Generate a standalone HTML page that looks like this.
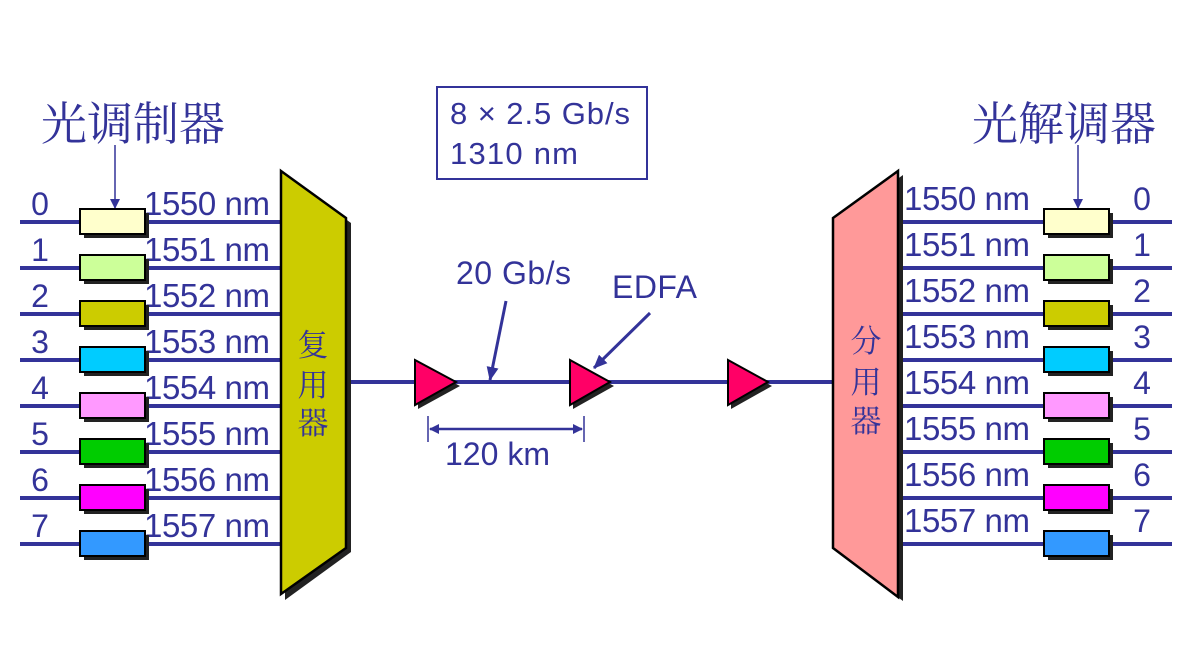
<!DOCTYPE html>
<html><head><meta charset="utf-8"><style>
html,body{margin:0;padding:0;background:#fff;}
svg{display:block;}
text{font-family:"Liberation Sans","Noto Sans CJK SC",sans-serif;fill:#333399;}
.cjk{font-family:"Noto Serif CJK SC","Noto Sans CJK SC",serif;}
</style></head><body>
<svg width="1193" height="658" viewBox="0 0 1193 658" xmlns="http://www.w3.org/2000/svg">
<defs>
<marker id="ah" markerWidth="10" markerHeight="10" refX="9" refY="5" orient="auto" markerUnits="userSpaceOnUse">
<path d="M0,0 L10,5 L0,10 z" fill="#333399"/></marker>
<marker id="ah2" markerWidth="14" markerHeight="12" refX="13" refY="6" orient="auto" markerUnits="userSpaceOnUse">
<path d="M0,0 L14,6 L0,12 z" fill="#333399"/></marker>
<marker id="as" markerWidth="10" markerHeight="10" refX="1" refY="5" orient="auto" markerUnits="userSpaceOnUse">
<path d="M10,0 L0,5 L10,10 z" fill="#333399"/></marker>
</defs>

<text x="41" y="140" class="cjk" font-size="46" textLength="184">光调制器</text>
<text x="972" y="140" class="cjk" font-size="46" textLength="184">光解调器</text>
<line x1="115" y1="145" x2="115" y2="208" stroke="#333399" stroke-width="1.5" marker-end="url(#ah)"/>
<line x1="1078" y1="145" x2="1078" y2="208" stroke="#333399" stroke-width="1.5" marker-end="url(#ah)"/>

<rect x="437" y="87" width="210" height="92" fill="none" stroke="#333399" stroke-width="2"/>
<text x="450" y="124" font-size="31" textLength="180">8 × 2.5 Gb/s</text>
<text x="450" y="164" font-size="31" textLength="128">1310 nm</text>

<g stroke="#333399" stroke-width="4">
<line x1="20" y1="222" x2="282" y2="222"/><line x1="20" y1="268" x2="282" y2="268"/>
<line x1="20" y1="314" x2="282" y2="314"/><line x1="20" y1="360" x2="282" y2="360"/>
<line x1="20" y1="406" x2="282" y2="406"/><line x1="20" y1="452" x2="282" y2="452"/>
<line x1="20" y1="498" x2="282" y2="498"/><line x1="20" y1="544" x2="282" y2="544"/>
<line x1="898" y1="222" x2="1172" y2="222"/><line x1="898" y1="268" x2="1172" y2="268"/>
<line x1="898" y1="314" x2="1172" y2="314"/><line x1="898" y1="360" x2="1172" y2="360"/>
<line x1="898" y1="406" x2="1172" y2="406"/><line x1="898" y1="452" x2="1172" y2="452"/>
<line x1="898" y1="498" x2="1172" y2="498"/><line x1="898" y1="544" x2="1172" y2="544"/>
<line x1="346" y1="382" x2="834" y2="382"/>
</g>

<g font-size="32">
<text x="40" y="215" text-anchor="middle">0</text><text x="40" y="261" text-anchor="middle">1</text>
<text x="40" y="307" text-anchor="middle">2</text><text x="40" y="353" text-anchor="middle">3</text>
<text x="40" y="399" text-anchor="middle">4</text><text x="40" y="445" text-anchor="middle">5</text>
<text x="40" y="491" text-anchor="middle">6</text><text x="40" y="537" text-anchor="middle">7</text>
<g font-size="33">
<text x="144" y="215" textLength="126">1550 nm</text><text x="144" y="261" textLength="126">1551 nm</text>
<text x="144" y="307" textLength="126">1552 nm</text><text x="144" y="353" textLength="126">1553 nm</text>
<text x="144" y="399" textLength="126">1554 nm</text><text x="144" y="445" textLength="126">1555 nm</text>
<text x="144" y="491" textLength="126">1556 nm</text><text x="144" y="537" textLength="126">1557 nm</text>
<text x="904" y="210" textLength="126">1550 nm</text><text x="904" y="256" textLength="126">1551 nm</text>
<text x="904" y="302" textLength="126">1552 nm</text><text x="904" y="348" textLength="126">1553 nm</text>
<text x="904" y="394" textLength="126">1554 nm</text><text x="904" y="440" textLength="126">1555 nm</text>
<text x="904" y="486" textLength="126">1556 nm</text><text x="904" y="532" textLength="126">1557 nm</text>
</g>
<text x="1142" y="210" text-anchor="middle">0</text><text x="1142" y="256" text-anchor="middle">1</text>
<text x="1142" y="302" text-anchor="middle">2</text><text x="1142" y="348" text-anchor="middle">3</text>
<text x="1142" y="394" text-anchor="middle">4</text><text x="1142" y="440" text-anchor="middle">5</text>
<text x="1142" y="486" text-anchor="middle">6</text><text x="1142" y="532" text-anchor="middle">7</text>
</g>

<g>
<g fill="#222">
<rect x="84" y="213" width="65" height="25"/><rect x="84" y="259" width="65" height="25"/>
<rect x="84" y="305" width="65" height="25"/><rect x="84" y="351" width="65" height="25"/>
<rect x="84" y="397" width="65" height="25"/><rect x="84" y="443" width="65" height="25"/>
<rect x="84" y="489" width="65" height="25"/><rect x="84" y="535" width="65" height="25"/>
<rect x="1048" y="213" width="65" height="25"/><rect x="1048" y="259" width="65" height="25"/>
<rect x="1048" y="305" width="65" height="25"/><rect x="1048" y="351" width="65" height="25"/>
<rect x="1048" y="397" width="65" height="25"/><rect x="1048" y="443" width="65" height="25"/>
<rect x="1048" y="489" width="65" height="25"/><rect x="1048" y="535" width="65" height="25"/>
</g>
<g stroke="#000" stroke-width="2">
<rect x="80" y="209" width="65" height="25" fill="#ffffcc"/><rect x="80" y="255" width="65" height="25" fill="#ccff99"/>
<rect x="80" y="301" width="65" height="25" fill="#cccc00"/><rect x="80" y="347" width="65" height="25" fill="#00ccff"/>
<rect x="80" y="393" width="65" height="25" fill="#ff99ff"/><rect x="80" y="439" width="65" height="25" fill="#00cc00"/>
<rect x="80" y="485" width="65" height="25" fill="#ff00ff"/><rect x="80" y="531" width="65" height="25" fill="#3399ff"/>
<rect x="1044" y="209" width="65" height="25" fill="#ffffcc"/><rect x="1044" y="255" width="65" height="25" fill="#ccff99"/>
<rect x="1044" y="301" width="65" height="25" fill="#cccc00"/><rect x="1044" y="347" width="65" height="25" fill="#00ccff"/>
<rect x="1044" y="393" width="65" height="25" fill="#ff99ff"/><rect x="1044" y="439" width="65" height="25" fill="#00cc00"/>
<rect x="1044" y="485" width="65" height="25" fill="#ff00ff"/><rect x="1044" y="531" width="65" height="25" fill="#3399ff"/>
</g>
</g>

<polygon points="285,175 351,223 351,552 285,600" fill="#222"/>
<polygon points="281,171 346,218 346,548 281,594" fill="#cccc00" stroke="#000" stroke-width="2.5"/>
<text x="313" y="356" class="cjk" font-size="31" text-anchor="middle">复</text>
<text x="313" y="396" class="cjk" font-size="31" text-anchor="middle">用</text>
<text x="313" y="434" class="cjk" font-size="31" text-anchor="middle">器</text>

<polygon points="837,222 903,175 903,601 837,552" fill="#222"/>
<polygon points="833,218 898,171 898,597 833,548" fill="#ff9999" stroke="#000" stroke-width="2.5"/>
<text x="866" y="352" class="cjk" font-size="31" text-anchor="middle">分</text>
<text x="866" y="393" class="cjk" font-size="31" text-anchor="middle">用</text>
<text x="866" y="432" class="cjk" font-size="31" text-anchor="middle">器</text>

<g fill="#222">
<polygon points="418,364 460,386 418,409"/><polygon points="573,364 614,386 573,409"/><polygon points="731,364 772,386 731,409"/>
</g>
<g fill="#ff0066" stroke="#000" stroke-width="2">
<polygon points="415,360 456,382 415,405"/><polygon points="570,360 610,382 570,405"/><polygon points="728,360 768,382 728,405"/>
</g>

<text x="456" y="284" font-size="32" textLength="115">20 Gb/s</text>
<line x1="506" y1="301" x2="490" y2="380" stroke="#333399" stroke-width="3" marker-end="url(#ah2)"/>
<text x="612" y="298" font-size="32" textLength="85">EDFA</text>
<line x1="650" y1="313" x2="594" y2="368" stroke="#333399" stroke-width="3" marker-end="url(#ah2)"/>

<line x1="428" y1="416" x2="428" y2="442" stroke="#333399" stroke-width="1.5"/>
<line x1="584" y1="416" x2="584" y2="442" stroke="#333399" stroke-width="1.5"/>
<line x1="430" y1="429" x2="582" y2="429" stroke="#333399" stroke-width="2.5" marker-start="url(#as)" marker-end="url(#ah)"/>
<text x="445" y="465" font-size="32" textLength="105">120 km</text>
</svg>
</body></html>
